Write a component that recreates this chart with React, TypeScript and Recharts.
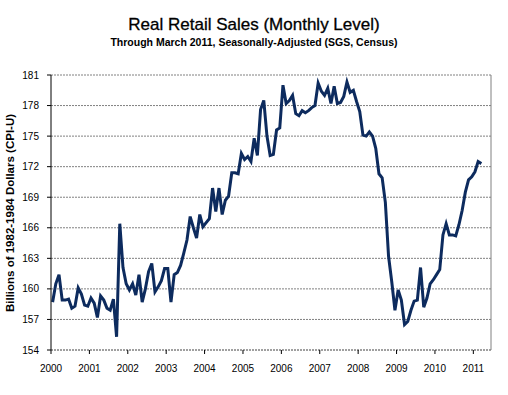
import React from "react";
import {
  CartesianGrid,
  Line,
  LineChart,
  ReferenceLine,
  XAxis,
  YAxis,
} from "recharts";

// monthly level, Jan 2000 .. Mar 2011
const sales = [
  158.7, 160.5, 161.4, 158.9, 158.9, 159.0, 158.1, 158.3, 160.1, 159.5, 158.4, 158.3,
  159.1, 158.6, 157.2, 159.3, 158.9, 158.1, 157.9, 159.0, 155.3, 166.4, 162.1, 160.5,
  159.9, 160.5, 159.4, 161.4, 158.7, 160.0, 161.7, 162.5, 159.7, 160.2, 160.8, 162.0,
  162.0, 158.7, 161.4, 161.6, 162.3, 163.5, 164.8, 167.1, 166.0, 165.0, 167.3, 166.1,
  166.5, 166.9, 169.9, 167.6, 169.9, 167.3, 168.7, 169.1, 171.4, 171.4, 171.3, 173.3,
  172.7, 173.0, 172.5, 174.8, 173.1, 177.6, 178.5, 175.0, 173.1, 173.2, 175.6, 175.8,
  180.0, 178.2, 178.5, 179.0, 177.2, 177.0, 177.5, 177.3, 177.5, 177.8, 178.0, 180.2,
  179.4, 179.0, 179.7, 178.2, 179.9, 178.2, 178.3, 178.9, 180.3, 179.3, 179.5, 178.4,
  177.4, 175.1, 175.0, 175.4, 175.0, 173.8, 171.3, 170.9, 168.5, 163.2, 160.7, 157.9,
  159.9, 158.9, 156.5, 156.8, 157.9, 158.8, 158.9, 162.1, 158.2, 159.1, 160.5, 160.9,
  161.4, 161.9, 165.3, 166.4, 165.3, 165.3, 165.2, 166.3, 167.7, 169.5, 170.7, 171.0,
  171.5, 172.5, 172.3,
];

const startYear = 2000;
const years = [2000, 2001, 2002, 2003, 2004, 2005, 2006, 2007, 2008, 2009, 2010, 2011];
const yTicks = [154, 157, 160, 163, 166, 169, 172, 175, 178, 181];

const title = "Real Retail Sales (Monthly Level)";
const subtitle = "Through March 2011, Seasonally-Adjusted (SGS, Census)";
const yLabel = "Billions of 1982-1984 Dollars (CPI-U)";

const xMax = 2011.46;
const font = "'Liberation Sans', Arial, sans-serif";

const data = sales.map((v, i) => ({ t: startYear + (i + 0.5) / 12, v }));

export default function App() {
  return (
    <div
      style={{
        position: "absolute",
        left: 0,
        top: 0,
        width: 508,
        height: 395,
        background: "#fff",
        fontFamily: font,
      }}
    >
      <div
        style={{
          position: "absolute",
          top: 15,
          left: 0,
          width: 508,
          textAlign: "center",
          fontSize: 17,
          lineHeight: "20px",
          color: "#000",
          WebkitTextStroke: "0.3px #000",
        }}
      >
        {title}
      </div>
      <div
        style={{
          position: "absolute",
          top: 35,
          left: 0,
          width: 508,
          textAlign: "center",
          fontSize: 10.5,
          fontWeight: "bold",
          lineHeight: "14px",
          color: "#000",
        }}
      >
        {subtitle}
      </div>
      <div
        style={{
          position: "absolute",
          left: 10,
          top: 213,
          transform: "translate(-50%, -50%) rotate(-90deg)",
          whiteSpace: "nowrap",
          fontSize: 11.5,
          fontWeight: "bold",
          color: "#000",
        }}
      >
        {yLabel}
      </div>
      <LineChart
        width={508}
        height={395}
        data={data}
        margin={{ top: 75, right: 17, bottom: 15, left: 11 }}
        style={{ position: "absolute", left: 0, top: 0 }}
      >
        <CartesianGrid vertical={false} stroke="#808080" strokeDasharray="2 1" />
        <XAxis
          dataKey="t"
          type="number"
          domain={[startYear, xMax]}
          ticks={years}
          tickFormatter={(y) => String(y)}
          height={30}
          tickSize={4}
          tickMargin={11}
          axisLine={{ stroke: "#808080", strokeDasharray: "2 1" }}
          tickLine={{ stroke: "#000" }}
          tick={{ fill: "#000", fontSize: 10, fontFamily: font }}
          interval={0}
        />
        <YAxis
          domain={[154, 181]}
          ticks={yTicks}
          width={40}
          tickSize={4}
          tickMargin={8}
          axisLine={{ stroke: "#000" }}
          tickLine={{ stroke: "#000" }}
          tick={{ fill: "#000", fontSize: 10, fontFamily: font }}
          interval={0}
        />
        <ReferenceLine x={xMax} stroke="#808080" />
        <Line
          type="linear"
          dataKey="v"
          stroke="#0d2b5e"
          strokeWidth={3}
          dot={false}
          isAnimationActive={false}
        />
      </LineChart>
    </div>
  );
}
